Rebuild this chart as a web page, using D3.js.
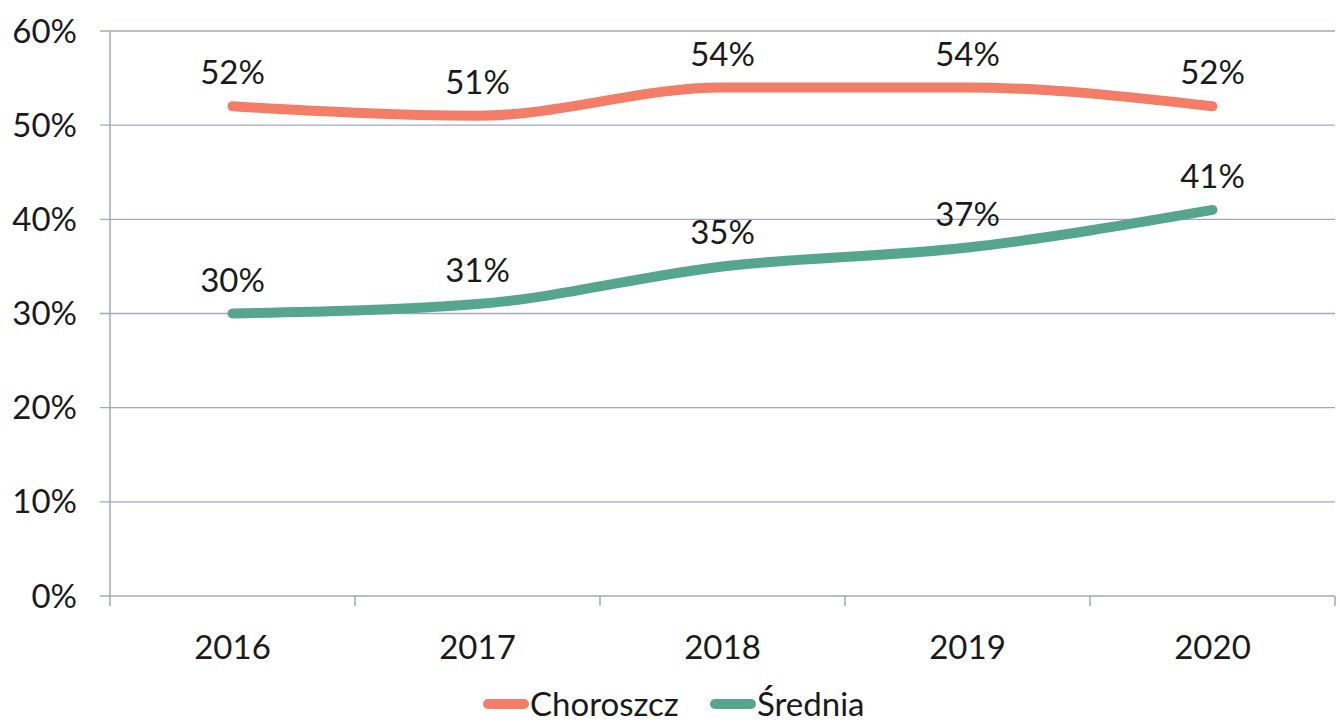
<!DOCTYPE html>
<html>
<head>
<meta charset="utf-8">
<script src="https://cdn.jsdelivr.net/npm/d3@7"></script>
<style>
    body { margin: 0; background: #fff; }
    text { font-family: Lato, "Open Sans", sans-serif; fill: #1a1a1a; }
</style>
</head>
<body>
<div id="canvas"></div>
<script>
"use strict"

let years = ["2016", "2017", "2018", "2019", "2020"]
let choroszcz = [52, 51, 54, 54, 52]
let srednia = [30, 31, 35, 37, 41]
let yTicks = [0, 10, 20, 30, 40, 50, 60]
let seriesNames = ["Choroszcz", "Średnia"]

let svgWidth = 1340
let svgHeight = 726

let margin = { top: 31, right: 5, bottom: 130, left: 110 }
let width = svgWidth - margin.left - margin.right
let height = svgHeight - margin.top - margin.bottom

let colors = ["#f47d67", "#55a68d"]
let gridColor = "#a3a6c6"

let svg = d3.select("#canvas")
    .append("svg")
    .attr("width", svgWidth)
    .attr("height", svgHeight)

let viz = svg.append("g")
    .attr("transform", `translate(${margin.left},${margin.top})`)

let xScale = d3.scaleBand()
    .domain(years)
    .range([0, width])

let yScale = d3.scaleLinear()
    .domain([0, 60])
    .range([height, 0])

// ---------------- GRID + AXES ----------------
viz.selectAll("line.grid")
    .data(yTicks)
    .enter()
    .append("line")
    .attr("class", "grid")
    .attr("x1", -10)
    .attr("x2", width)
    .attr("y1", d => yScale(d))
    .attr("y2", d => yScale(d))
    .attr("stroke", gridColor)
    .attr("stroke-width", 1.3)

viz.append("line")
    .attr("x1", 0).attr("x2", 0)
    .attr("y1", 0).attr("y2", height + 10)
    .attr("stroke", gridColor)
    .attr("stroke-width", 1.5)

let boundaries = years.map(d => xScale(d) + xScale.bandwidth())
viz.selectAll("line.xtick")
    .data(boundaries)
    .enter()
    .append("line")
    .attr("class", "xtick")
    .attr("x1", d => d).attr("x2", d => d)
    .attr("y1", height).attr("y2", height + 10)
    .attr("stroke", gridColor)
    .attr("stroke-width", 1.5)

viz.selectAll("text.ytick")
    .data(yTicks)
    .enter()
    .append("text")
    .attr("class", "ytick")
    .attr("x", -33)
    .attr("y", d => yScale(d))
    .attr("dy", "0.35em")
    .attr("text-anchor", "end")
    .style("font-size", "33px")
    .text(d => d + "%")

viz.selectAll("text.xlabel")
    .data(years)
    .enter()
    .append("text")
    .attr("class", "xlabel")
    .attr("x", d => xScale(d) + xScale.bandwidth() / 2)
    .attr("y", height + 63)
    .attr("text-anchor", "middle")
    .style("font-size", "33px")
    .text(d => d)

// ---------------- LINES ----------------
let line = d3.line()
    .x((d, i) => xScale(years[i]) + xScale.bandwidth() / 2)
    .y(d => yScale(d))
    .curve(d3.curveMonotoneX)

let allSeries = [choroszcz, srednia]

allSeries.forEach(function(values, s) {
    viz.append("path")
        .datum(values)
        .attr("d", line)
        .attr("fill", "none")
        .attr("stroke", colors[s])
        .attr("stroke-width", 10)
        .attr("stroke-linecap", "round")
        .attr("stroke-linejoin", "round")

    viz.selectAll("text.lab" + s)
        .data(values)
        .enter()
        .append("text")
        .attr("class", "lab" + s)
        .attr("x", (d, i) => xScale(years[i]) + xScale.bandwidth() / 2)
        .attr("y", d => yScale(d) - 22)
        .attr("text-anchor", "middle")
        .style("font-size", "33px")
        .text(d => d + "%")
})

// ---------------- LEGEND ----------------
let legend = svg.append("g")
    .attr("transform", "translate(488,704)")

let legendX = [0, 227]
seriesNames.forEach(function(name, i) {
    let g = legend.append("g").attr("transform", `translate(${legendX[i]},0)`)
    g.append("line")
        .attr("x1", 0).attr("x2", 36)
        .attr("y1", 0).attr("y2", 0)
        .attr("stroke", colors[i])
        .attr("stroke-width", 10)
        .attr("stroke-linecap", "round")
    g.append("text")
        .attr("x", 42)
        .attr("y", 0)
        .attr("dy", "0.35em")
        .style("font-size", "33px")
        .text(name)
})
</script>
</body>
</html>
